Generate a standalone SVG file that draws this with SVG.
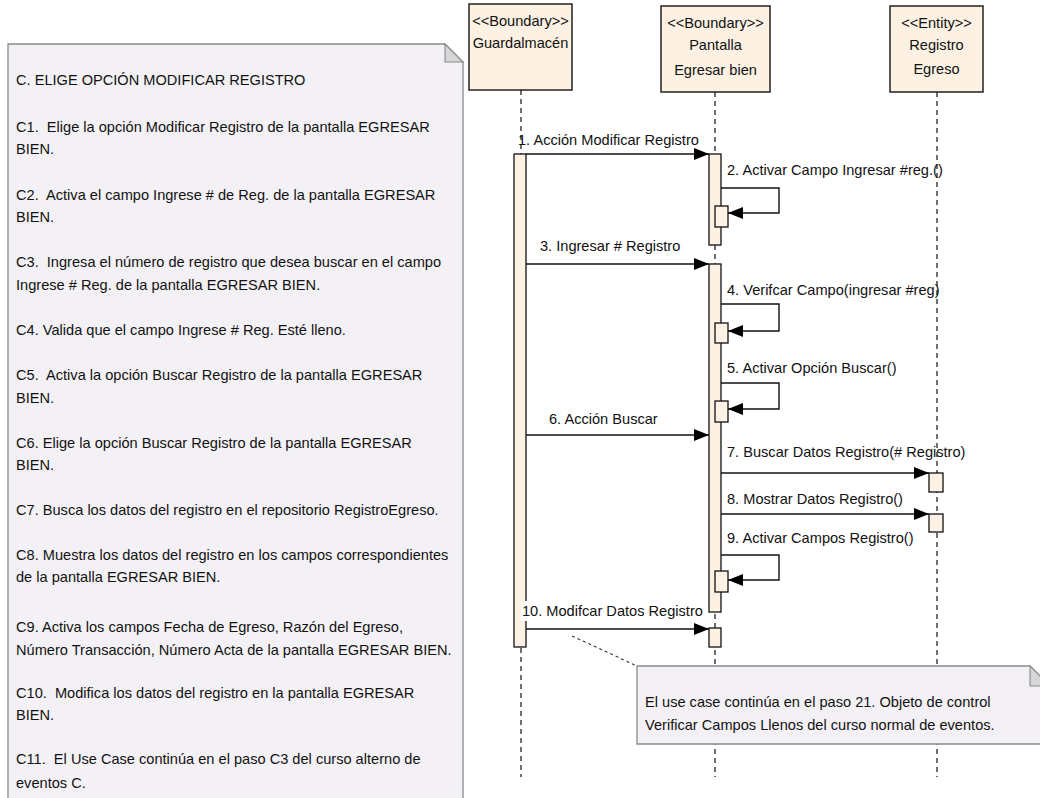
<svg xmlns="http://www.w3.org/2000/svg" width="1040" height="798" viewBox="0 0 1040 798">
  <defs>
    <marker id="arrow" markerUnits="userSpaceOnUse" viewBox="0 0 16 13" markerWidth="16" markerHeight="13" refX="15" refY="6" orient="auto">
      <path d="M0,0 L15,6 L0,12 Z" fill="#000"/>
    </marker>
  </defs>
  <style>
    text { font-family: "Liberation Sans", Arial, sans-serif; font-size: 14.6px; fill: #111; white-space: pre; }
    .mid { text-anchor: middle; }
    .head { fill: #fcf1e3; stroke: #222; stroke-width: 1.5; }
    .bar { fill: #fcf1e3; stroke: #111; stroke-width: 1.3; }
    .life { stroke: #111; stroke-width: 1.2; stroke-dasharray: 5 4; fill: none; }
    .msg { stroke: #111; stroke-width: 1.4; fill: none; marker-end: url(#arrow); }
    .note { fill: #f4f1f6; stroke: #8a8a8a; stroke-width: 1.3; }
    .fold { fill: #d6d6d6; stroke: #8a8a8a; stroke-width: 1.1; }
    .anchor { stroke: #333; stroke-width: 1.1; stroke-dasharray: 3 3; fill: none; }
  </style>

  <rect width="1040" height="798" fill="#fff"/>

  <!-- Alternate flow C description -->
  <g id="note-curso-alterno-c">
    <path class="note" d="M8,44 H445 L463,62 V805 H8 Z"/>
    <path class="fold" d="M445,44 V62 H463 Z"/>
    <text x="16" y="85">C. ELIGE OPCIÓN MODIFICAR REGISTRO</text>
    <text x="16" y="132">C1.  Elige la opción Modificar Registro de la pantalla EGRESAR</text>
    <text x="16" y="154">BIEN.</text>
    <text x="16" y="200">C2.  Activa el campo Ingrese # de Reg. de la pantalla EGRESAR</text>
    <text x="16" y="222">BIEN.</text>
    <text x="16" y="267">C3.  Ingresa el número de registro que desea buscar en el campo</text>
    <text x="16" y="290">Ingrese # Reg. de la pantalla EGRESAR BIEN.</text>
    <text x="16" y="335">C4. Valida que el campo Ingrese # Reg. Esté lleno.</text>
    <text x="16" y="380">C5.  Activa la opción Buscar Registro de la pantalla EGRESAR</text>
    <text x="16" y="403">BIEN.</text>
    <text x="16" y="448">C6. Elige la opción Buscar Registro de la pantalla EGRESAR</text>
    <text x="16" y="470">BIEN.</text>
    <text x="16" y="515">C7. Busca los datos del registro en el repositorio RegistroEgreso.</text>
    <text x="16" y="560">C8. Muestra los datos del registro en los campos correspondientes</text>
    <text x="16" y="582">de la pantalla EGRESAR BIEN.</text>
    <text x="16" y="632">C9. Activa los campos Fecha de Egreso, Razón del Egreso,</text>
    <text x="16" y="655">Número Transacción, Número Acta de la pantalla EGRESAR BIEN.</text>
    <text x="16" y="698">C10.  Modifica los datos del registro en la pantalla EGRESAR</text>
    <text x="16" y="720">BIEN.</text>
    <text x="16" y="764">C11.  El Use Case continúa en el paso C3 del curso alterno de</text>
    <text x="16" y="788">eventos C.</text>
  </g>

  <!-- Lifeline: Guardalmacén -->
  <g id="guardalmacen">
    <rect class="head" x="469" y="4" width="103" height="86"/>
    <text class="mid" x="520.5" y="26">&lt;&lt;Boundary&gt;&gt;</text>
    <text class="mid" x="520.5" y="48">Guardalmacén</text>
    <path class="life" d="M521,90 V777"/>
    <rect class="bar" x="514" y="154" width="12" height="493"/>
  </g>

  <!-- Lifeline: Pantalla Egresar bien -->
  <g id="pantalla-egresar-bien">
    <rect class="head" x="661" y="6" width="109" height="86"/>
    <text class="mid" x="715.5" y="28">&lt;&lt;Boundary&gt;&gt;</text>
    <text class="mid" x="715.5" y="50">Pantalla</text>
    <text class="mid" x="715.5" y="75">Egresar bien</text>
    <path class="life" d="M715,92 V777"/>
    <rect class="bar" x="709" y="154" width="12" height="91"/>
    <rect class="bar" x="709" y="264" width="12" height="348"/>
    <rect class="bar" x="709" y="628" width="12" height="19"/>
    <!-- nested activations for self calls -->
    <rect class="bar" x="715" y="206" width="13" height="21"/>
    <rect class="bar" x="715" y="323" width="13" height="20"/>
    <rect class="bar" x="715" y="401" width="13" height="21"/>
    <rect class="bar" x="715" y="571" width="13" height="21"/>
  </g>

  <!-- Lifeline: Registro Egreso -->
  <g id="registro-egreso">
    <rect class="head" x="890" y="6" width="93" height="86"/>
    <text class="mid" x="936.5" y="28">&lt;&lt;Entity&gt;&gt;</text>
    <text class="mid" x="936.5" y="50">Registro</text>
    <text class="mid" x="936.5" y="74">Egreso</text>
    <path class="life" d="M937,92 V777"/>
    <rect class="bar" x="929" y="473" width="14" height="19"/>
    <rect class="bar" x="929" y="514" width="14" height="18"/>
  </g>

  <!-- Messages -->
  <g id="connectors">
    <path class="msg" d="M526,154 H709"/>
    <text x="518" y="145">1. Acción Modificar Registro</text>

    <path class="msg" d="M721,188 H779 V213 H728"/>
    <text x="727" y="175">2. Activar Campo Ingresar #reg.()</text>

    <path class="msg" d="M526,264 H709"/>
    <text x="540" y="251">3. Ingresar # Registro</text>

    <path class="msg" d="M721,304 H779 V331 H728"/>
    <text x="727" y="295">4. Verifcar Campo(ingresar #reg)</text>

    <path class="msg" d="M721,383 H779 V409 H728"/>
    <text x="727" y="373">5. Activar Opción Buscar()</text>

    <path class="msg" d="M526,435 H709"/>
    <text x="549" y="424">6. Acción Buscar</text>

    <path class="msg" d="M721,473 H929"/>
    <text x="727" y="457">7. Buscar Datos Registro(# Registro)</text>

    <path class="msg" d="M721,514 H929"/>
    <text x="727" y="504">8. Mostrar Datos Registro()</text>

    <path class="msg" d="M721,555 H779 V580 H728"/>
    <text x="727" y="543">9. Activar Campos Registro()</text>

    <path class="msg" d="M526,629 H709"/>
    <rect x="521" y="601" width="183" height="20" fill="#fff"/>
    <text x="522" y="616">10. Modifcar Datos Registro</text>

    <path class="anchor" d="M572,636 L637,666"/>
  </g>

  <!-- Continuation note -->
  <g id="note-continuacion">
    <path class="note" d="M637,666 H1030 L1050,686 V744 H637 Z"/>
    <path class="fold" d="M1030,666 V686 H1050 Z"/>
    <text x="645" y="707">El use case continúa en el paso 21. Objeto de control</text>
    <text x="645" y="730">Verificar Campos Llenos del curso normal de eventos.</text>
  </g>
</svg>
